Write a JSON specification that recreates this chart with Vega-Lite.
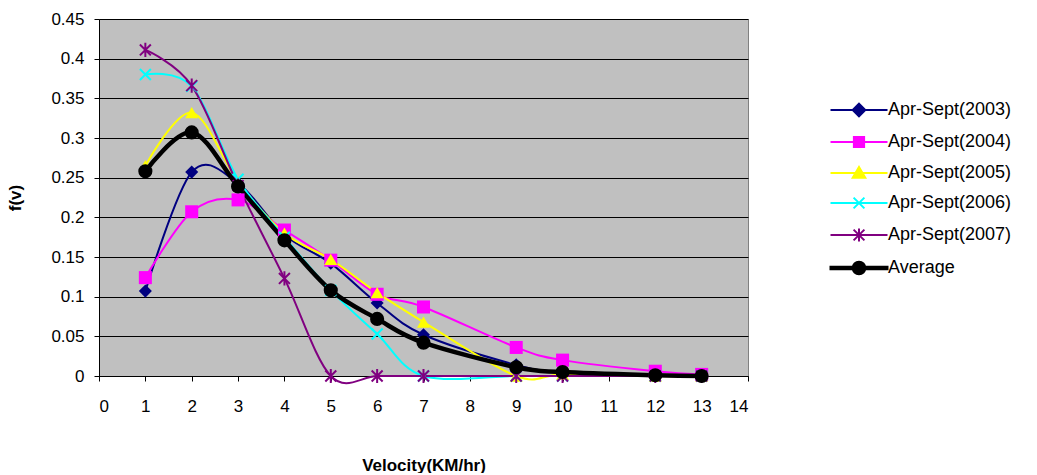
{
  "$schema": "https://vega.github.io/schema/vega-lite/v6.json",
  "width": 649,
  "height": 357,
  "padding": {"left": 6, "top": 10, "right": 2, "bottom": 0},
  "background": "white",
  "config": {
    "font": "Liberation Sans",
    "view": {"fill": "#C0C0C0", "stroke": "#808080", "strokeWidth": 1}
  },
  "data": {
    "values": [
      {"v": 1, "series": "Apr-Sept(2003)", "f": 0.107},
      {"v": 2, "series": "Apr-Sept(2003)", "f": 0.257},
      {"v": 3, "series": "Apr-Sept(2003)", "f": 0.243},
      {"v": 4, "series": "Apr-Sept(2003)", "f": 0.178},
      {"v": 5, "series": "Apr-Sept(2003)", "f": 0.142},
      {"v": 6, "series": "Apr-Sept(2003)", "f": 0.092},
      {"v": 7, "series": "Apr-Sept(2003)", "f": 0.052},
      {"v": 9, "series": "Apr-Sept(2003)", "f": 0.014},
      {"v": 10, "series": "Apr-Sept(2003)", "f": 0.005},
      {"v": 12, "series": "Apr-Sept(2003)", "f": 0.001},
      {"v": 13, "series": "Apr-Sept(2003)", "f": 0.0},
      {"v": 1, "series": "Apr-Sept(2004)", "f": 0.124},
      {"v": 2, "series": "Apr-Sept(2004)", "f": 0.207},
      {"v": 3, "series": "Apr-Sept(2004)", "f": 0.222},
      {"v": 4, "series": "Apr-Sept(2004)", "f": 0.184},
      {"v": 5, "series": "Apr-Sept(2004)", "f": 0.146},
      {"v": 6, "series": "Apr-Sept(2004)", "f": 0.103},
      {"v": 7, "series": "Apr-Sept(2004)", "f": 0.087},
      {"v": 9, "series": "Apr-Sept(2004)", "f": 0.036},
      {"v": 10, "series": "Apr-Sept(2004)", "f": 0.020},
      {"v": 12, "series": "Apr-Sept(2004)", "f": 0.006},
      {"v": 13, "series": "Apr-Sept(2004)", "f": 0.002},
      {"v": 1, "series": "Apr-Sept(2005)", "f": 0.265},
      {"v": 2, "series": "Apr-Sept(2005)", "f": 0.332},
      {"v": 3, "series": "Apr-Sept(2005)", "f": 0.245},
      {"v": 4, "series": "Apr-Sept(2005)", "f": 0.180},
      {"v": 5, "series": "Apr-Sept(2005)", "f": 0.147},
      {"v": 6, "series": "Apr-Sept(2005)", "f": 0.105},
      {"v": 7, "series": "Apr-Sept(2005)", "f": 0.068},
      {"v": 9, "series": "Apr-Sept(2005)", "f": 0.0},
      {"v": 10, "series": "Apr-Sept(2005)", "f": 0.002},
      {"v": 12, "series": "Apr-Sept(2005)", "f": 0.0},
      {"v": 13, "series": "Apr-Sept(2005)", "f": 0.0},
      {"v": 1, "series": "Apr-Sept(2006)", "f": 0.380},
      {"v": 2, "series": "Apr-Sept(2006)", "f": 0.365},
      {"v": 3, "series": "Apr-Sept(2006)", "f": 0.248},
      {"v": 4, "series": "Apr-Sept(2006)", "f": 0.175},
      {"v": 5, "series": "Apr-Sept(2006)", "f": 0.108},
      {"v": 6, "series": "Apr-Sept(2006)", "f": 0.053},
      {"v": 7, "series": "Apr-Sept(2006)", "f": 0.0},
      {"v": 9, "series": "Apr-Sept(2006)", "f": 0.0},
      {"v": 10, "series": "Apr-Sept(2006)", "f": 0.0},
      {"v": 12, "series": "Apr-Sept(2006)", "f": 0.0},
      {"v": 13, "series": "Apr-Sept(2006)", "f": 0.0},
      {"v": 1, "series": "Apr-Sept(2007)", "f": 0.411},
      {"v": 2, "series": "Apr-Sept(2007)", "f": 0.366},
      {"v": 3, "series": "Apr-Sept(2007)", "f": 0.240},
      {"v": 4, "series": "Apr-Sept(2007)", "f": 0.123},
      {"v": 5, "series": "Apr-Sept(2007)", "f": 0.0},
      {"v": 6, "series": "Apr-Sept(2007)", "f": 0.0},
      {"v": 7, "series": "Apr-Sept(2007)", "f": 0.0},
      {"v": 9, "series": "Apr-Sept(2007)", "f": 0.0},
      {"v": 10, "series": "Apr-Sept(2007)", "f": 0.0},
      {"v": 12, "series": "Apr-Sept(2007)", "f": 0.0},
      {"v": 13, "series": "Apr-Sept(2007)", "f": 0.0},
      {"v": 1, "series": "Average", "f": 0.258},
      {"v": 2, "series": "Average", "f": 0.307},
      {"v": 3, "series": "Average", "f": 0.239},
      {"v": 4, "series": "Average", "f": 0.171},
      {"v": 5, "series": "Average", "f": 0.108},
      {"v": 6, "series": "Average", "f": 0.072},
      {"v": 7, "series": "Average", "f": 0.042},
      {"v": 9, "series": "Average", "f": 0.011},
      {"v": 10, "series": "Average", "f": 0.005},
      {"v": 12, "series": "Average", "f": 0.001},
      {"v": 13, "series": "Average", "f": 0.0}
    ]
  },
  "encoding": {
    "x": {
      "field": "v", "type": "quantitative",
      "scale": {"domain": [0, 14], "nice": false},
      "axis": {
        "title": "Velocity(KM/hr)", "values": [0,1,2,3,4,5,6,7,8,9,10,11,12,13,14],
        "grid": false, "domainColor": "black", "tickColor": "black", "tickSize": 5,
        "labelFontSize": 17, "labelColor": "black", "labelPadding": 17,
        "titleFontSize": 17, "titleFontWeight": "bold", "titleColor": "black", "titlePadding": 43
      }
    },
    "y": {
      "field": "f", "type": "quantitative",
      "scale": {"domain": [0, 0.45], "nice": false},
      "axis": {
        "title": "f(v)", "values": [0,0.05,0.1,0.15,0.2,0.25,0.3,0.35,0.4,0.45], "format": "~g",
        "grid": true, "gridColor": "black", "gridOpacity": 1, "gridWidth": 1,
        "domainColor": "black", "tickColor": "black", "tickSize": 5,
        "labelFontSize": 17, "labelColor": "black", "labelPadding": 10,
        "titleFontSize": 17, "titleFontWeight": "bold", "titleColor": "black", "titlePadding": 26
      }
    },
    "color": {
      "field": "series", "type": "nominal", "title": null,
      "scale": {
        "domain": ["Apr-Sept(2003)", "Apr-Sept(2004)", "Apr-Sept(2005)", "Apr-Sept(2006)", "Apr-Sept(2007)", "Average"],
        "range": ["#000080", "#FF00FF", "#FFFF00", "#00FFFF", "#800080", "#000000"]
      },
      "legend": {
        "orient": "none", "legendX": 751, "legendY": 82, "padding": 0,
        "labelFontSize": 18, "labelColor": "black", "labelLimit": 300,
        "rowPadding": 11, "symbolStrokeWidth": 2, "labelOffset": 20, "symbolSize": 144,
        "encode": {"symbols": {"update": {
          "fill": {"scale": "color", "field": "value"},
          "stroke": {"scale": "color", "field": "value"},
          "strokeWidth": {"value": 2},
          "opacity": {"value": 1},
          "shape": {"signal": "datum.value === 'Apr-Sept(2003)' ? 'M-4.75,0H4.75M0,-1.05L1.05,0L0,1.05L-1.05,0Z' : datum.value === 'Apr-Sept(2004)' ? 'M-4.75,0H4.75M-0.85,-0.85H0.85V0.85H-0.85Z' : datum.value === 'Apr-Sept(2005)' ? 'M-4.75,0H4.75M0,-1L1.05,0.8H-1.05Z' : datum.value === 'Apr-Sept(2006)' ? 'M-4.75,0H4.75M-0.9,-0.9L0.9,0.9M-0.9,0.9L0.9,-0.9' : datum.value === 'Apr-Sept(2007)' ? 'M-4.75,0H4.75M-0.9,-0.9L0.9,0.9M-0.9,0.9L0.9,-0.9M0,-1.1V1.1' : 'M-4.75,-0.2H4.75V0.2H-4.75ZM1.05,0A1.05,1.05 0 1,1 -1.05,0A1.05,1.05 0 1,1 1.05,0Z'"}
        }}}
      }
    }
  },
  "layer": [
    {
      "transform": [{"filter": "datum.series !== 'Average'"}],
      "mark": {"type": "line", "interpolate": "cardinal", "strokeWidth": 2}
    },
    {
      "transform": [{"filter": "datum.series === 'Average'"}],
      "mark": {"type": "line", "interpolate": "cardinal", "strokeWidth": 4.5}
    },
    {
      "transform": [{"filter": "datum.series === 'Apr-Sept(2003)'"}],
      "mark": {"type": "point", "shape": "diamond", "filled": true, "size": 170, "opacity": 1}
    },
    {
      "transform": [{"filter": "datum.series === 'Apr-Sept(2004)'"}],
      "mark": {"type": "point", "shape": "square", "filled": true, "size": 170, "opacity": 1}
    },
    {
      "transform": [{"filter": "datum.series === 'Apr-Sept(2005)'"}],
      "mark": {"type": "point", "shape": "triangle-up", "filled": true, "size": 170, "opacity": 1}
    },
    {
      "transform": [{"filter": "datum.series === 'Apr-Sept(2006)'"}],
      "mark": {"type": "point", "shape": "M-1,-1L1,1M-1,1L1,-1", "filled": false, "size": 120, "strokeWidth": 2, "opacity": 1}
    },
    {
      "transform": [{"filter": "datum.series === 'Apr-Sept(2007)'"}],
      "mark": {"type": "point", "shape": "M-1,-1L1,1M-1,1L1,-1M0,-1.3L0,1.3", "filled": false, "size": 120, "strokeWidth": 2, "opacity": 1}
    },
    {
      "transform": [{"filter": "datum.series === 'Average'"}],
      "mark": {"type": "point", "shape": "circle", "filled": true, "size": 200, "opacity": 1}
    }
  ]
}
